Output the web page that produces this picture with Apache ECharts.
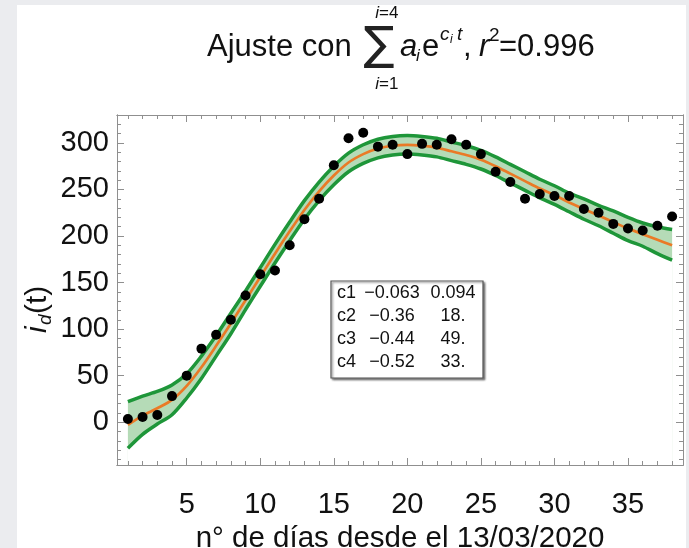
<!DOCTYPE html>
<html>
<head>
<meta charset="utf-8">
<script src="https://cdn.jsdelivr.net/npm/echarts@6/dist/echarts.min.js"></script>
<style>
html,body{margin:0;padding:0;background:#ebecef;}
#c{width:689px;height:548px;}
</style>
</head>
<body>
<div id="c"></div>
<script>
// ---- data ----
var days = [1,2,3,4,5,6,7,8,9,10,11,12,13,14,15,16,17,18,19,20,21,22,23,24,25,26,27,28,29,30,31,32,33,34,35,36,37,38];
var observed = [3.5,5.5,7.7,28,50,79,94,110,136,159,163,190,218,240,276,305,311,296,298,288,299,298,304,298,288,269,258,240,245,243,243,229,225,213,208,206,211,221];
var fitValues = [-3,7,15,24,39,59,82,106,131,156,181,205,228,248,265,279,288,294,297,298,297,295,291,287,282,275,267,259,251,244,236,229,222,215,208,202,196,190];
var upperBand = [22,28,33,40,52,71,93,117,141,166,191,215,238,258,275,289,298,304,307,308,307,305,301,297,292,285,277,269,261,254,246,240,233,227,220,214,210,207];
var lowerBand = [-28,-13,-2,8,26,47,71,95,121,146,171,195,218,238,255,269,278,284,287,288,287,285,281,277,272,265,257,249,241,234,226,218,211,203,195,189,181,174];
var xMajorTicks = [5,10,15,20,25,30,35];
var xMinorTicks = [1,2,3,4,6,7,8,9,11,12,13,14,16,17,18,19,21,22,23,24,26,27,28,29,31,32,33,34,36,37,38];
var yMajorTicks = [0,50,100,150,200,250,300];
var yMinorTicks = [-40,-30,-20,-10,10,20,30,40,60,70,80,90,110,120,130,140,160,170,180,190,210,220,230,240,260,270,280,290,310,320];
var tableNames = ['c1','c2','c3','c4'];
var tableRates = ['\u22120.063','\u22120.36','\u22120.44','\u22120.52'];
var tableAmps = ['0.094','18.','49.','33.'];
var r2Text = '0.996';

function pairs(xs, ys){ return xs.map(function(x,i){ return [x, ys[i]]; }); }

var FONT = 'Liberation Sans, Arial, sans-serif';
var frameColor = '#8f8f8f';
var green = '#1e9639';
var orange = '#ea7a26';

function xAx(pos, ticks, len, labels){
  return {
    type:'value', gridIndex:0, position:pos, min:0.26, max:38.74, z:10,
    axisLine:{show:true, onZero:false, lineStyle:{color:frameColor, width:1}},
    axisTick:{show:true, inside:true, length:len, customValues:ticks, lineStyle:{color:frameColor}},
    axisLabel: labels ? {show:true, customValues:ticks, fontSize:29, color:'#111', fontFamily:FONT, margin:25} : {show:false},
    splitLine:{show:false}
  };
}
function yAx(pos, ticks, len, labels){
  return {
    type:'value', gridIndex:0, position:pos, min:-46, max:330, z:10,
    axisLine:{show:true, onZero:false, lineStyle:{color:frameColor, width:1}},
    axisTick:{show:true, inside:true, length:len, customValues:ticks, lineStyle:{color:frameColor}},
    axisLabel: labels ? {show:true, customValues:ticks, fontSize:29, color:'#111', fontFamily:FONT, margin:8} : {show:false},
    splitLine:{show:false}
  };
}

var xAxes = [xAx('bottom', xMajorTicks, 7, true), xAx('bottom', xMinorTicks, 4, false), xAx('top', xMajorTicks, 7, false), xAx('top', xMinorTicks, 4, false)];
xAxes[0].name = 'n\u00b0 de d\u00edas desde el 13/03/2020';
xAxes[0].nameLocation = 'middle';
xAxes[0].nameGap = 54;
xAxes[0].nameTextStyle = {fontSize:29.5, color:'#111', fontFamily:FONT};
var yAxes = [yAx('left', yMajorTicks, 7, true), yAx('left', yMinorTicks, 4, false), yAx('right', yMajorTicks, 7, false), yAx('right', yMinorTicks, 4, false)];

var graphics = [
  {type:'rect', z:-100, silent:true, shape:{x:17, y:5, width:669, height:543}, style:{fill:'#ffffff'}}
];
// title
var tY = 47;
var TF = 31;
function txt(x, y, s, size, opts){
  opts = opts || {};
  return {type:'text', z:100, x:x, y:y, style:{text:s, fontSize:size, fontFamily:FONT, fill:'#111', fontStyle:opts.italic?'italic':'normal', align:opts.align||'left', verticalAlign:opts.va||'middle'}};
}
graphics.push(txt(207, tY, 'Ajuste con', TF));
graphics.push({type:'text', z:100, x:379, y:tY, style:{text:'\u2211', fontSize:46, fontFamily:'DejaVu Sans', fill:'#222', align:'center', verticalAlign:'middle'}});
graphics.push(txt(379, 13, 'i', 17, {italic:true, align:'right'}));
graphics.push(txt(379, 13, '=4', 17));
graphics.push(txt(379, 84, 'i', 17, {italic:true, align:'right'}));
graphics.push(txt(379, 84, '=1', 17));
graphics.push(txt(400, tY, 'a', TF, {italic:true}));
graphics.push(txt(416, tY+9, 'i', 17, {italic:true}));
graphics.push(txt(422, tY, 'e', TF));
graphics.push(txt(440, tY-12, 'c', 19, {italic:true}));
graphics.push(txt(450, tY-7, 'i', 12, {italic:true}));
graphics.push(txt(457, tY-12, 't', 19, {italic:true}));
graphics.push(txt(463, tY, ',', TF));
graphics.push(txt(479, tY, 'r', TF, {italic:true}));
graphics.push(txt(489, tY-11, '2', 19));
graphics.push(txt(499, tY, '=' + r2Text, TF));
// y axis title (rotated)
graphics.push({type:'group', x:38, y:300, rotation:Math.PI/2, z:100, children:[
  {type:'text', z:100, x:-33, y:0, style:{text:'i', fontSize:30, fontStyle:'italic', fontFamily:FONT, fill:'#111', verticalAlign:'middle'}},
  {type:'text', z:100, x:-25, y:8, style:{text:'d', fontSize:19, fontStyle:'italic', fontFamily:FONT, fill:'#111', verticalAlign:'middle'}},
  {type:'text', z:100, x:-14, y:0, style:{text:'(t)', fontSize:30, fontFamily:FONT, fill:'#111', verticalAlign:'middle'}}
]});
// table
graphics.push({type:'rect', z:90, shape:{x:331, y:281, width:152, height:97}, style:{fill:'#fff', stroke:'#555', lineWidth:1.2, shadowBlur:2, shadowOffsetX:1.5, shadowOffsetY:1.5, shadowColor:'rgba(0,0,0,0.45)'}});
for (var r=0; r<4; r++){
  var yy = 293 + r*23;
  graphics.push(txt(337, yy, tableNames[r], 18));
  graphics.push(txt(392, yy, tableRates[r], 18, {align:'center'}));
  graphics.push(txt(453, yy, tableAmps[r], 18, {align:'center'}));
}

var SM = 0.3;
var option = {
  backgroundColor:'#ebecef',
  animation:false,
  grid:{left:117, right:6, top:115, bottom:83, containLabel:false, outerBoundsMode:'none'},
  xAxis:xAxes,
  yAxis:yAxes,
  graphic:graphics,
  series:[
    {type:'line', name:'upper', xAxisIndex:0, yAxisIndex:0, data:pairs(days, upperBand), smooth:SM, symbol:'none', lineStyle:{color:green, width:3.5}, areaStyle:{color:'#b5dbb7', opacity:1, origin:'start'}, z:1},
    {type:'line', name:'lower', xAxisIndex:0, yAxisIndex:0, data:pairs(days, lowerBand), smooth:SM, symbol:'none', lineStyle:{color:green, width:3.5}, areaStyle:{color:'#ffffff', opacity:1, origin:'start'}, z:2},
    {type:'line', name:'fit', xAxisIndex:0, yAxisIndex:0, data:pairs(days, fitValues), smooth:SM, symbol:'none', lineStyle:{color:orange, width:2.7}, z:3},
    {type:'scatter', name:'data', xAxisIndex:0, yAxisIndex:0, data:pairs(days, observed), symbol:'circle', symbolSize:10, itemStyle:{color:'#000', opacity:1}, z:4}
  ]
};
var chart = echarts.init(document.getElementById('c'), null, {renderer:'canvas'});
chart.setOption(option);
</script>
</body>
</html>
